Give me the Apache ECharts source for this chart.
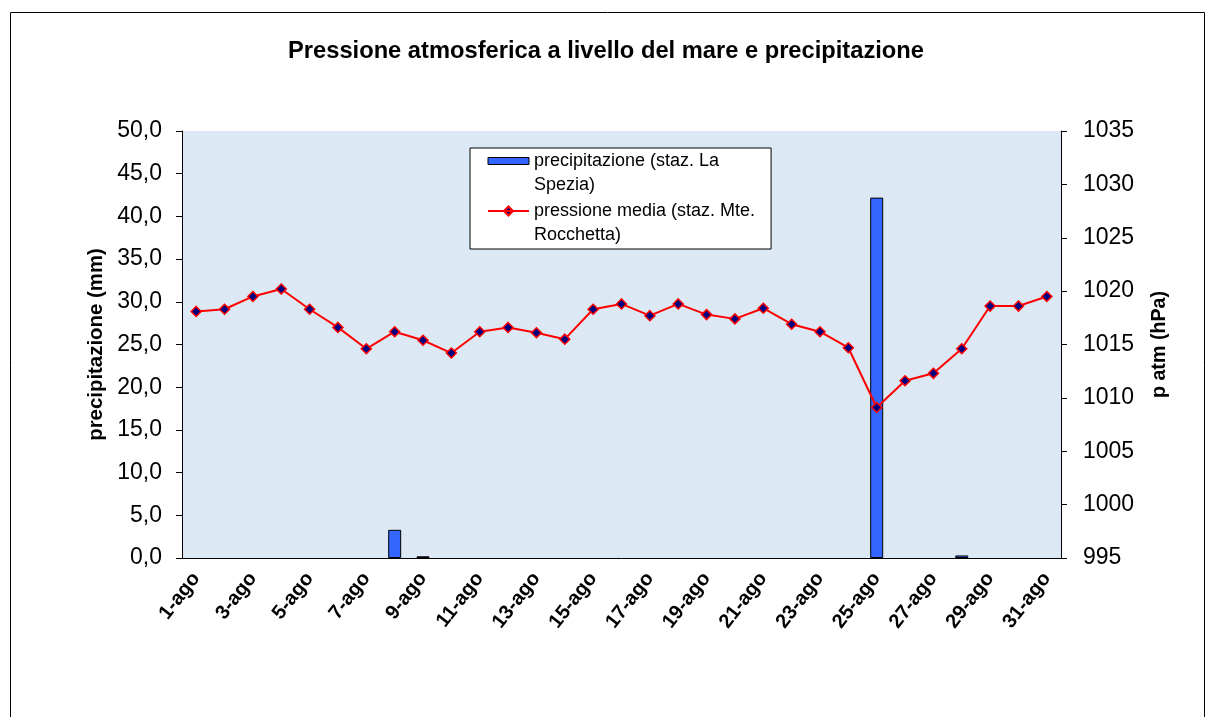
<!DOCTYPE html>
<html>
<head>
<meta charset="utf-8">
<script src="https://cdn.jsdelivr.net/npm/echarts@6/dist/echarts.min.js"></script>
<style>
html,body{margin:0;padding:0;background:#fff;}
#chart{width:1212px;height:717px;}
</style>
</head>
<body>
<div id="chart"></div>
<script>
const categories = ["1-ago","2-ago","3-ago","4-ago","5-ago","6-ago","7-ago","8-ago","9-ago","10-ago",
  "11-ago","12-ago","13-ago","14-ago","15-ago","16-ago","17-ago","18-ago","19-ago","20-ago",
  "21-ago","22-ago","23-ago","24-ago","25-ago","26-ago","27-ago","28-ago","29-ago","30-ago","31-ago"];
const precipitazione = [0,0,0,0,0,0,0,3.3,0.2,0,
  0,0,0,0,0,0,0,0,0,0,
  0,0,0,0,42.2,0,0,0.3,0,0,0];
const pressione = [1018.1,1018.3,1019.5,1020.2,1018.3,1016.6,1014.6,1016.2,1015.4,1014.2,
  1016.2,1016.6,1016.1,1015.5,1018.3,1018.8,1017.7,1018.8,1017.8,1017.4,
  1018.4,1016.9,1016.2,1014.7,1009.1,1011.6,1012.3,1014.6,1018.6,1018.6,1019.5];
const seriesNames = ["precipitazione (staz. La Spezia)","pressione media (staz. Mte. Rocchetta)"];
const legendLabels = {
  "precipitazione (staz. La Spezia)": "precipitazione (staz. La\nSpezia)",
  "pressione media (staz. Mte. Rocchetta)": "pressione media (staz. Mte.\nRocchetta)"
};
const titleText = "Pressione atmosferica a livello del mare e precipitazione";

// zero-height bars are not drawn (no outline) as in the original
const barData = precipitazione.map(v => v === 0 ? { value: v, itemStyle: { borderWidth: 0, opacity: 0 } } : v);

// legend icons aligned with the first text line of each two-line entry
const barIcon = 'path://M0,0L0,0M0,8L41,8L41,15L0,15ZM0,48L0,48';
const lineIcon = 'path://M0,0L0,0M0,12L41,12M16,12L20.5,7.5L25,12L20.5,16.5ZM0,48L0,48';

const chart = echarts.init(document.getElementById('chart'));
const font = "Arial, 'Liberation Sans', sans-serif";
chart.setOption({
  animation: false,
  backgroundColor: '#ffffff',
  textStyle: { fontFamily: font, color: '#000' },
  graphic: [{
    type: 'rect', left: 8, top: 10, silent: true, z: -10,
    shape: { x: 0.5, y: 0.5, width: 1194, height: 800 },
    style: { fill: null, stroke: '#000', lineWidth: 1 }
  }],
  title: {
    text: titleText, left: 'center', top: 34,
    textStyle: { fontFamily: font, fontSize: 23.7, fontWeight: 'bold', color: '#000' }
  },
  legend: {
    orient: 'vertical', left: 470, top: 148,
    data: [
      { name: seriesNames[0], icon: barIcon,
        itemStyle: { color: '#3366ff', borderColor: '#000', borderWidth: 1 } },
      { name: seriesNames[1], icon: lineIcon,
        itemStyle: { color: '#000080', borderColor: '#ff0000', borderWidth: 2 } }
    ],
    formatter: n => legendLabels[n],
    backgroundColor: '#ffffff', borderColor: '#000', borderWidth: 1,
    padding: [1, 16, 1, 17], itemGap: 0,
    itemWidth: 41, itemHeight: 48, symbolKeepAspect: true,
    textStyle: { fontFamily: font, fontSize: 18, color: '#000', lineHeight: 24 }
  },
  grid: {
    left: 182, right: 151, top: 131, bottom: 159,
    show: true, backgroundColor: '#dce9f5', borderWidth: 0
  },
  xAxis: {
    type: 'category', data: categories, boundaryGap: true,
    axisLine: { lineStyle: { color: '#000', width: 1 } },
    axisTick: { interval: 0, length: 6, lineStyle: { color: '#000' } },
    axisLabel: { interval: 1, rotate: 52, fontFamily: font, fontSize: 20, fontWeight: 'bold', color: '#000', margin: 17 }
  },
  yAxis: [{
    type: 'value', min: 0, max: 50, interval: 5,
    name: 'precipitazione (mm)', nameLocation: 'middle', nameGap: 76, nameRotate: 90,
    nameTextStyle: { fontFamily: font, fontSize: 20.4, fontWeight: 'bold', color: '#000' },
    axisLine: { show: true, lineStyle: { color: '#000' } },
    axisTick: { show: true, length: 6, lineStyle: { color: '#000' } },
    splitLine: { show: false },
    axisLabel: { fontFamily: font, fontSize: 23, color: '#000', margin: 20,
      formatter: v => v.toFixed(1).replace('.', ',') }
  }, {
    type: 'value', min: 995, max: 1035, interval: 5, position: 'right',
    name: 'p atm (hPa)', nameLocation: 'middle', nameGap: 89, nameRotate: 90,
    nameTextStyle: { fontFamily: font, fontSize: 19.7, fontWeight: 'bold', color: '#000' },
    axisLine: { show: true, lineStyle: { color: '#000' } },
    axisTick: { show: true, length: 6, lineStyle: { color: '#000' } },
    splitLine: { show: false },
    axisLabel: { fontFamily: font, fontSize: 23, color: '#000', margin: 22,
      formatter: v => String(v) }
  }],
  series: [{
    name: seriesNames[0], type: 'bar', yAxisIndex: 0, data: barData,
    barWidth: 13,
    itemStyle: { color: '#3366ff', borderColor: '#000', borderWidth: 1 }
  }, {
    name: seriesNames[1], type: 'line', yAxisIndex: 1, data: pressione,
    symbol: 'diamond', symbolSize: 10,
    lineStyle: { color: '#ff0000', width: 2 },
    itemStyle: { color: '#000080', borderColor: '#ff0000', borderWidth: 1.5 }
  }]
});
</script>
</body>
</html>
